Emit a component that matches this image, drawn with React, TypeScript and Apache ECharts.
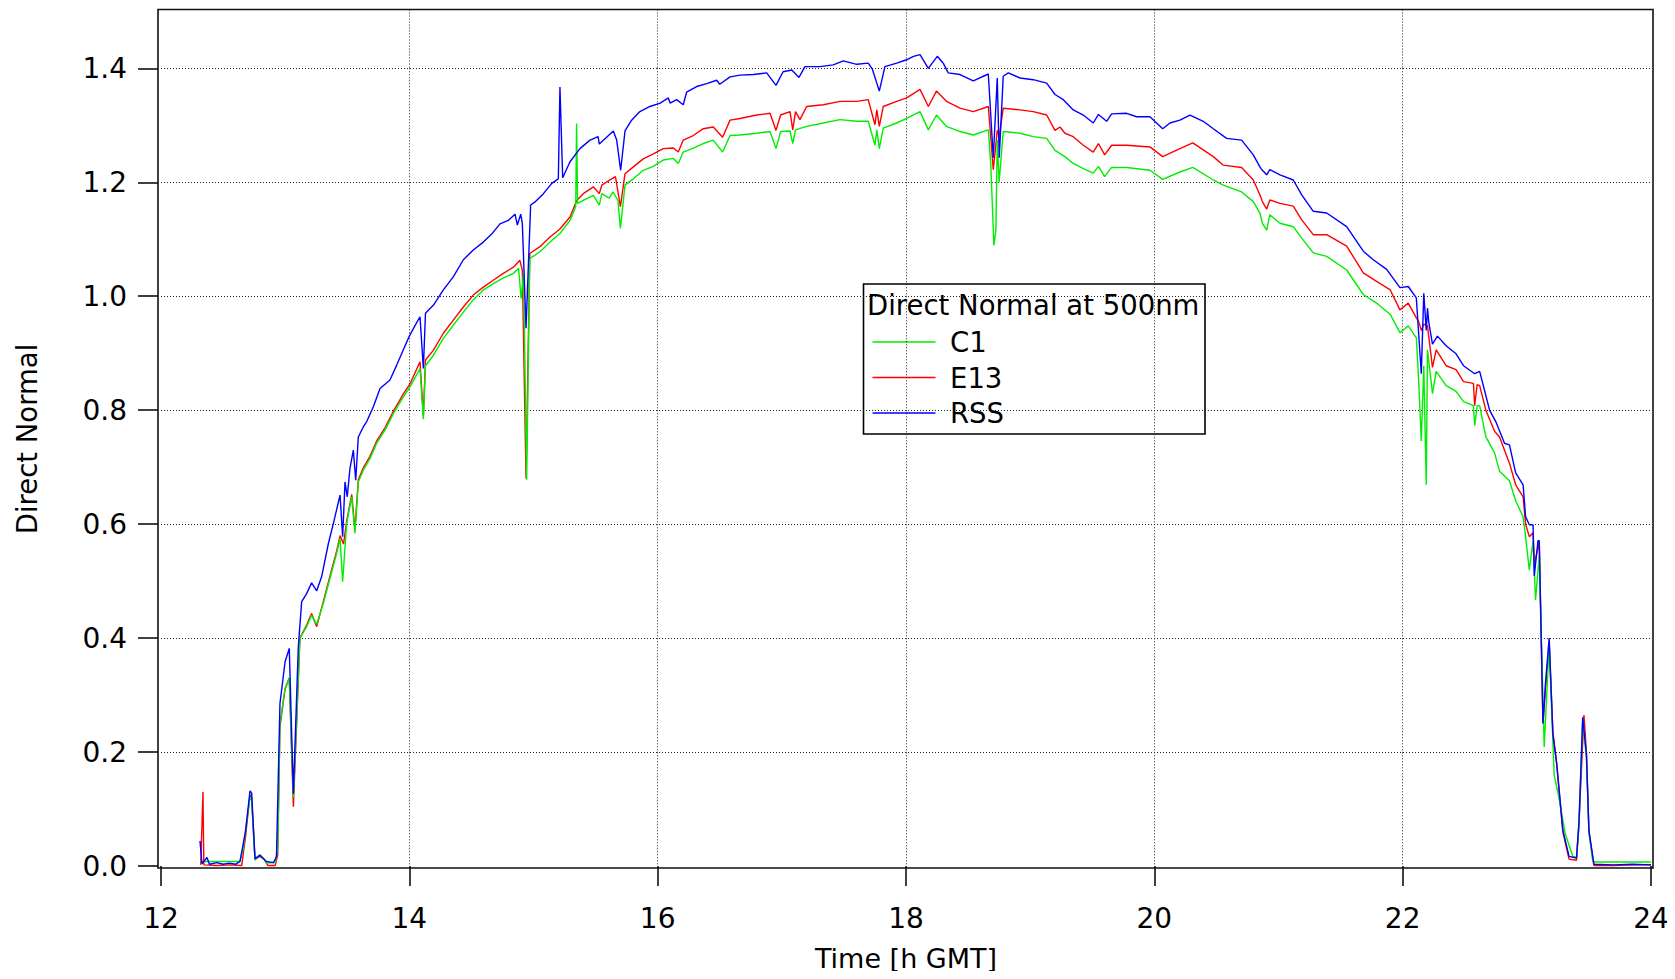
import React, { useEffect, useRef } from "react";
import * as echarts from "echarts";

const X_TICKS = [12, 14, 16, 18, 20, 22, 24];
const Y_TICK_LABELS = ["0.0", "0.2", "0.4", "0.6", "0.8", "1.0", "1.2", "1.4"];
const X_TITLE = "Time [h GMT]";
const Y_TITLE = "Direct Normal";
const LEGEND_TITLE = "Direct Normal at 500nm";
const SERIES_NAMES = ["C1", "E13", "RSS"];

const RSS: [number, number][] = [
  [12.314, 0.044], [12.33, 0.004], [12.37, 0.015], [12.39, 0.003], [12.45, 0.006], [12.5, 0.003], [12.55, 0.005], [12.6, 0.003],
  [12.636, 0.008], [12.68, 0.06], [12.717, 0.132], [12.73, 0.128], [12.757, 0.013], [12.797, 0.019], [12.83, 0.012], [12.85, 0.008],
  [12.905, 0.006], [12.93, 0.016], [12.958, 0.285], [12.999, 0.358], [13.033, 0.382], [13.066, 0.127], [13.106, 0.385], [13.133, 0.464],
  [13.173, 0.478], [13.213, 0.497], [13.254, 0.483], [13.294, 0.508], [13.348, 0.566], [13.388, 0.601], [13.442, 0.651], [13.463, 0.578],
  [13.482, 0.674], [13.5, 0.648], [13.522, 0.698], [13.549, 0.73], [13.568, 0.677], [13.589, 0.753], [13.63, 0.771], [13.657, 0.78],
  [13.71, 0.806], [13.764, 0.838], [13.844, 0.853], [13.9, 0.88], [13.95, 0.905], [14.0, 0.93], [14.05, 0.95], [14.086, 0.964],
  [14.113, 0.873], [14.13, 0.97], [14.193, 0.984], [14.274, 1.011], [14.354, 1.034], [14.435, 1.064], [14.515, 1.081], [14.596, 1.095],
  [14.663, 1.109], [14.73, 1.127], [14.797, 1.133], [14.851, 1.144], [14.87, 1.125], [14.897, 1.144], [14.91, 1.128], [14.94, 0.944],
  [14.977, 1.16], [15.01, 1.165], [15.08, 1.18], [15.147, 1.198], [15.2, 1.206], [15.213, 1.367], [15.235, 1.208], [15.294, 1.236],
  [15.374, 1.259], [15.455, 1.274], [15.52, 1.28], [15.53, 1.267], [15.643, 1.29], [15.67, 1.274], [15.702, 1.221], [15.737, 1.29],
  [15.79, 1.309], [15.857, 1.324], [15.938, 1.333], [16.02, 1.339], [16.086, 1.348], [16.1, 1.339], [16.153, 1.345], [16.206, 1.336],
  [16.233, 1.358], [16.314, 1.368], [16.395, 1.373], [16.475, 1.379], [16.5, 1.372], [16.583, 1.385], [16.663, 1.388], [16.77, 1.389],
  [16.878, 1.392], [16.953, 1.37], [17.01, 1.394], [17.08, 1.397], [17.138, 1.384], [17.186, 1.403], [17.307, 1.403], [17.414, 1.406],
  [17.495, 1.413], [17.603, 1.407], [17.696, 1.409], [17.73, 1.398], [17.785, 1.36], [17.83, 1.403], [17.925, 1.409], [18.005, 1.415],
  [18.06, 1.421], [18.113, 1.424], [18.18, 1.4], [18.252, 1.421], [18.3, 1.409], [18.34, 1.392], [18.435, 1.389], [18.542, 1.378],
  [18.663, 1.39], [18.703, 1.243], [18.735, 1.383], [18.751, 1.243], [18.783, 1.386], [18.824, 1.392], [18.918, 1.383], [19.025, 1.38],
  [19.133, 1.374], [19.2, 1.354], [19.267, 1.345], [19.347, 1.327], [19.428, 1.318], [19.508, 1.304], [19.55, 1.319], [19.616, 1.307],
  [19.656, 1.32], [19.777, 1.321], [19.857, 1.315], [19.965, 1.315], [20.067, 1.294], [20.126, 1.304], [20.206, 1.309], [20.287, 1.318],
  [20.394, 1.307], [20.475, 1.294], [20.582, 1.277], [20.703, 1.274], [20.797, 1.248], [20.85, 1.227], [20.87, 1.221], [20.905, 1.213],
  [20.93, 1.222], [21.012, 1.213], [21.119, 1.204], [21.187, 1.178], [21.28, 1.149], [21.388, 1.146], [21.549, 1.122], [21.683, 1.079],
  [21.763, 1.064], [21.871, 1.047], [21.978, 1.015], [22.045, 1.017], [22.11, 0.997], [22.15, 0.864], [22.17, 1.005], [22.19, 0.94],
  [22.2, 0.979], [22.21, 0.955], [22.24, 0.916], [22.28, 0.93], [22.35, 0.913], [22.43, 0.899], [22.49, 0.878], [22.58, 0.864],
  [22.62, 0.868], [22.7, 0.8], [22.75, 0.78], [22.82, 0.742], [22.86, 0.739], [22.91, 0.69], [22.97, 0.669], [22.99, 0.613],
  [23.02, 0.599], [23.05, 0.599], [23.06, 0.509], [23.09, 0.571], [23.1, 0.571], [23.13, 0.25], [23.15, 0.32], [23.18, 0.4],
  [23.21, 0.23], [23.24, 0.181], [23.29, 0.063], [23.34, 0.017], [23.4, 0.014], [23.42, 0.077], [23.45, 0.261], [23.48, 0.195],
  [23.5, 0.063], [23.54, 0.003], [23.7, 0.002], [23.85, 0.003], [24.0, 0.002],
];

const E13: [number, number][] = [
  [12.32, 0.002], [12.338, 0.13], [12.345, 0.002], [12.45, 0.001], [12.55, 0.002], [12.65, 0.001], [12.68, 0.05], [12.717, 0.125],
  [12.73, 0.12], [12.757, 0.012], [12.797, 0.017], [12.83, 0.012], [12.86, 0.001], [12.92, 0.001], [12.94, 0.02], [12.958, 0.245],
  [12.999, 0.31], [13.033, 0.33], [13.066, 0.104], [13.119, 0.4], [13.173, 0.423], [13.213, 0.443], [13.254, 0.42], [13.307, 0.464],
  [13.361, 0.509], [13.415, 0.553], [13.442, 0.58], [13.47, 0.565], [13.495, 0.605], [13.536, 0.652], [13.562, 0.59], [13.589, 0.678],
  [13.63, 0.699], [13.683, 0.719], [13.737, 0.746], [13.804, 0.769], [13.871, 0.798], [13.951, 0.828], [14.005, 0.846], [14.086, 0.885],
  [14.113, 0.79], [14.13, 0.888], [14.193, 0.905], [14.274, 0.935], [14.354, 0.958], [14.435, 0.981], [14.515, 1.002], [14.596, 1.016],
  [14.676, 1.028], [14.757, 1.04], [14.838, 1.051], [14.89, 1.063], [14.91, 1.046], [14.94, 0.68], [14.97, 1.075], [15.052, 1.087],
  [15.133, 1.104], [15.213, 1.118], [15.294, 1.139], [15.348, 1.168], [15.401, 1.18], [15.482, 1.192], [15.53, 1.18], [15.55, 1.195],
  [15.629, 1.206], [15.66, 1.21], [15.7, 1.157], [15.737, 1.215], [15.804, 1.227], [15.884, 1.241], [15.965, 1.25], [16.045, 1.259],
  [16.126, 1.26], [16.166, 1.253], [16.206, 1.274], [16.287, 1.282], [16.367, 1.294], [16.448, 1.297], [16.523, 1.279], [16.583, 1.309],
  [16.663, 1.312], [16.797, 1.318], [16.905, 1.321], [16.953, 1.291], [16.99, 1.318], [17.066, 1.324], [17.088, 1.292], [17.11, 1.324],
  [17.146, 1.31], [17.2, 1.333], [17.334, 1.336], [17.468, 1.342], [17.603, 1.342], [17.696, 1.345], [17.75, 1.301], [17.765, 1.327],
  [17.785, 1.298], [17.817, 1.333], [17.925, 1.342], [18.005, 1.348], [18.113, 1.363], [18.18, 1.333], [18.245, 1.36], [18.326, 1.342],
  [18.435, 1.33], [18.542, 1.324], [18.663, 1.333], [18.703, 1.222], [18.735, 1.291], [18.751, 1.28], [18.783, 1.33], [18.918, 1.327],
  [19.025, 1.324], [19.133, 1.318], [19.2, 1.291], [19.24, 1.297], [19.28, 1.286], [19.347, 1.28], [19.428, 1.265], [19.508, 1.253],
  [19.55, 1.268], [19.6, 1.248], [19.656, 1.265], [19.777, 1.265], [19.965, 1.262], [20.067, 1.245], [20.206, 1.259], [20.31, 1.269],
  [20.475, 1.245], [20.555, 1.23], [20.703, 1.226], [20.797, 1.204], [20.85, 1.178], [20.87, 1.166], [20.905, 1.153], [20.93, 1.169],
  [21.012, 1.163], [21.119, 1.158], [21.187, 1.134], [21.28, 1.108], [21.388, 1.108], [21.549, 1.088], [21.683, 1.041], [21.79, 1.026],
  [21.9, 1.011], [21.978, 0.976], [22.045, 0.988], [22.11, 0.962], [22.13, 0.955], [22.15, 0.94], [22.17, 0.951], [22.2, 0.948],
  [22.24, 0.875], [22.27, 0.906], [22.35, 0.878], [22.43, 0.871], [22.49, 0.85], [22.57, 0.847], [22.58, 0.808], [22.6, 0.845],
  [22.62, 0.843], [22.67, 0.8], [22.74, 0.763], [22.78, 0.753], [22.86, 0.707], [22.91, 0.669], [22.97, 0.648], [22.99, 0.6],
  [23.02, 0.578], [23.05, 0.585], [23.06, 0.53], [23.1, 0.568], [23.13, 0.25], [23.15, 0.31], [23.18, 0.39], [23.21, 0.235],
  [23.24, 0.18], [23.29, 0.06], [23.34, 0.012], [23.4, 0.01], [23.42, 0.075], [23.46, 0.265], [23.48, 0.2], [23.5, 0.06],
  [23.54, 0.001], [23.7, 0.001], [23.85, 0.002], [24.0, 0.002],
];

const C1: [number, number][] = [
  [12.32, 0.008], [12.45, 0.008], [12.55, 0.008], [12.636, 0.008], [12.66, 0.028], [12.717, 0.122], [12.73, 0.115], [12.757, 0.01],
  [12.797, 0.02], [12.83, 0.012], [12.85, 0.005], [12.92, 0.006], [12.94, 0.03], [12.958, 0.25], [12.999, 0.312], [13.033, 0.33],
  [13.066, 0.12], [13.119, 0.4], [13.173, 0.42], [13.213, 0.44], [13.254, 0.424], [13.307, 0.461], [13.361, 0.505], [13.415, 0.549],
  [13.442, 0.575], [13.463, 0.499], [13.495, 0.601], [13.536, 0.648], [13.562, 0.584], [13.589, 0.674], [13.63, 0.695], [13.683, 0.715],
  [13.737, 0.742], [13.804, 0.765], [13.871, 0.794], [13.951, 0.823], [14.005, 0.841], [14.086, 0.873], [14.113, 0.784], [14.13, 0.878],
  [14.193, 0.896], [14.274, 0.926], [14.354, 0.949], [14.435, 0.972], [14.515, 0.994], [14.596, 1.011], [14.676, 1.022], [14.757, 1.032],
  [14.838, 1.04], [14.88, 1.049], [14.9, 0.996], [14.92, 1.04], [14.945, 0.678], [14.97, 1.066], [15.052, 1.078], [15.133, 1.095],
  [15.213, 1.11], [15.294, 1.133], [15.34, 1.157], [15.347, 1.303], [15.355, 1.163], [15.401, 1.168], [15.482, 1.177], [15.53, 1.16],
  [15.55, 1.18], [15.61, 1.172], [15.64, 1.183], [15.68, 1.168], [15.7, 1.119], [15.737, 1.195], [15.804, 1.206], [15.884, 1.221],
  [15.965, 1.228], [16.045, 1.239], [16.126, 1.242], [16.166, 1.233], [16.206, 1.253], [16.287, 1.26], [16.367, 1.268], [16.448, 1.274],
  [16.523, 1.253], [16.583, 1.282], [16.663, 1.283], [16.797, 1.286], [16.905, 1.289], [16.953, 1.259], [16.99, 1.289], [17.066, 1.29],
  [17.088, 1.268], [17.11, 1.292], [17.2, 1.298], [17.334, 1.304], [17.468, 1.31], [17.603, 1.307], [17.696, 1.307], [17.75, 1.265],
  [17.765, 1.292], [17.785, 1.259], [17.817, 1.295], [17.925, 1.304], [18.005, 1.312], [18.113, 1.324], [18.18, 1.292], [18.245, 1.318],
  [18.326, 1.298], [18.435, 1.289], [18.542, 1.283], [18.663, 1.292], [18.683, 1.23], [18.708, 1.089], [18.724, 1.116], [18.735, 1.274],
  [18.75, 1.2], [18.783, 1.289], [18.918, 1.286], [19.025, 1.28], [19.133, 1.277], [19.2, 1.256], [19.28, 1.245], [19.347, 1.233],
  [19.428, 1.224], [19.508, 1.216], [19.55, 1.228], [19.6, 1.21], [19.656, 1.226], [19.777, 1.226], [19.965, 1.221], [20.067, 1.205],
  [20.206, 1.218], [20.31, 1.226], [20.475, 1.204], [20.555, 1.195], [20.703, 1.183], [20.797, 1.166], [20.85, 1.146], [20.87, 1.128],
  [20.905, 1.116], [20.93, 1.143], [21.012, 1.128], [21.119, 1.122], [21.187, 1.102], [21.28, 1.076], [21.388, 1.07], [21.549, 1.046],
  [21.683, 1.003], [21.79, 0.988], [21.9, 0.968], [21.978, 0.936], [22.045, 0.948], [22.11, 0.927], [22.13, 0.847], [22.15, 0.746],
  [22.17, 0.878], [22.19, 0.669], [22.2, 0.906], [22.24, 0.829], [22.27, 0.868], [22.35, 0.843], [22.43, 0.833], [22.49, 0.815],
  [22.57, 0.808], [22.58, 0.773], [22.6, 0.808], [22.62, 0.808], [22.67, 0.753], [22.74, 0.725], [22.78, 0.693], [22.86, 0.676],
  [22.91, 0.641], [22.97, 0.613], [22.99, 0.578], [23.02, 0.519], [23.05, 0.571], [23.07, 0.467], [23.1, 0.544], [23.14, 0.209],
  [23.18, 0.39], [23.22, 0.16], [23.26, 0.118], [23.31, 0.056], [23.37, 0.017], [23.4, 0.015], [23.42, 0.07], [23.45, 0.258],
  [23.48, 0.19], [23.5, 0.06], [23.53, 0.01], [23.55, 0.007], [24.0, 0.007],
];

const COLORS = { C1: "#00ee00", E13: "#ff0000", RSS: "#0000ff" };
const FONT = "DejaVu Sans";

export default function App() {
  const ref = useRef<HTMLDivElement>(null);
  useEffect(() => {
    if (!ref.current) return;
    const chart = echarts.init(ref.current, null, { renderer: "svg" });
    const lineStyle = (c: string) => ({ color: c, width: 1.4 });
    const dotted = { type: [1, 2] as any, color: "#222", width: 1 };
    const legendRows = [
      { name: SERIES_NAMES[0], color: COLORS.C1, y: 342 },
      { name: SERIES_NAMES[1], color: COLORS.E13, y: 377.5 },
      { name: SERIES_NAMES[2], color: COLORS.RSS, y: 413 },
    ];
    chart.setOption({
      animation: false,
      backgroundColor: "#fff",
      textStyle: { fontFamily: FONT },
      grid: [
        { left: 161, right: 24, top: 68.3, bottom: 113 },
        { left: 161, right: 24, top: 9.5, height: 58.8 },
      ],
      xAxis: [
        {
          type: "value",
          gridIndex: 0,
          min: X_TICKS[0],
          max: X_TICKS[X_TICKS.length - 1],
          interval: 2,
          offset: 2,
          axisLine: { show: false },
          axisTick: { show: true, length: 20, lineStyle: { color: "#000", width: 1.5 } },
          axisLabel: { fontSize: 28, color: "#000", margin: 36, fontFamily: FONT },
          splitLine: { show: true, lineStyle: dotted, showMinLine: false, showMaxLine: false },
          name: X_TITLE,
          nameLocation: "middle",
          nameGap: 76.5,
          nameTextStyle: { fontSize: 27, color: "#000", fontFamily: FONT },
        },
        {
          type: "value",
          gridIndex: 1,
          min: X_TICKS[0],
          max: X_TICKS[X_TICKS.length - 1],
          interval: 2,
          axisLine: { show: false },
          axisTick: { show: false },
          axisLabel: { show: false },
          splitLine: { show: true, lineStyle: dotted, showMinLine: false, showMaxLine: false },
        },
      ],
      yAxis: [
        {
          type: "value",
          gridIndex: 0,
          min: 0,
          max: 1.4,
          interval: 0.2,
          offset: 3,
          axisLine: { show: false },
          axisTick: { show: true, length: 20, lineStyle: { color: "#000", width: 1.5 } },
          axisLabel: {
            fontSize: 28,
            color: "#000",
            margin: 31,
            fontFamily: FONT,
            formatter: (v: number) => Y_TICK_LABELS[Math.round(v / 0.2)] ?? "",
          },
          splitLine: { show: true, lineStyle: dotted, showMinLine: false, showMaxLine: true },
        },
        { type: "value", gridIndex: 1, show: false, min: 0, max: 1 },
      ],
      series: [
        { name: "E13", type: "line", data: E13, showSymbol: false, clip: false, lineStyle: lineStyle(COLORS.E13), z: 2 },
        { name: "C1", type: "line", data: C1, showSymbol: false, clip: false, lineStyle: lineStyle(COLORS.C1), z: 3 },
        { name: "RSS", type: "line", data: RSS, showSymbol: false, clip: false, lineStyle: lineStyle(COLORS.RSS), z: 4 },
      ],
      graphic: [
        {
          type: "rect",
          shape: { x: 158, y: 9.5, width: 1495, height: 858.5 },
          style: { fill: "none", stroke: "#111", lineWidth: 1.6 },
          z: 10,
          silent: true,
        },
        {
          type: "text",
          x: 27,
          y: 439,
          rotation: Math.PI / 2,
          style: {
            text: Y_TITLE,
            font: `27.5px "${FONT}"`,
            fill: "#000",
            align: "center",
            verticalAlign: "middle",
          },
        },
        {
          type: "group",
          z: 20,
          children: [
            {
              type: "rect",
              shape: { x: 863.5, y: 284, width: 341.5, height: 150 },
              style: { fill: "#fff", stroke: "#000", lineWidth: 1.6 },
            },
            {
              type: "text",
              style: {
                text: LEGEND_TITLE,
                x: 867,
                y: 305,
                font: `27.5px "${FONT}"`,
                fill: "#000",
                verticalAlign: "middle",
                align: "left",
              },
            },
            ...legendRows.flatMap((r) => [
              {
                type: "line",
                shape: { x1: 872.5, y1: r.y, x2: 935.5, y2: r.y },
                style: { stroke: r.color, lineWidth: 1.4 },
              },
              {
                type: "text",
                style: {
                  text: r.name,
                  x: 950,
                  y: r.y,
                  font: `27.5px "${FONT}"`,
                  fill: "#000",
                  verticalAlign: "middle",
                  align: "left",
                },
              },
            ]),
          ],
        },
      ],
    });
    return () => chart.dispose();
  }, []);
  return <div ref={ref} style={{ width: 1675, height: 979, margin: -8 }} />;
}
